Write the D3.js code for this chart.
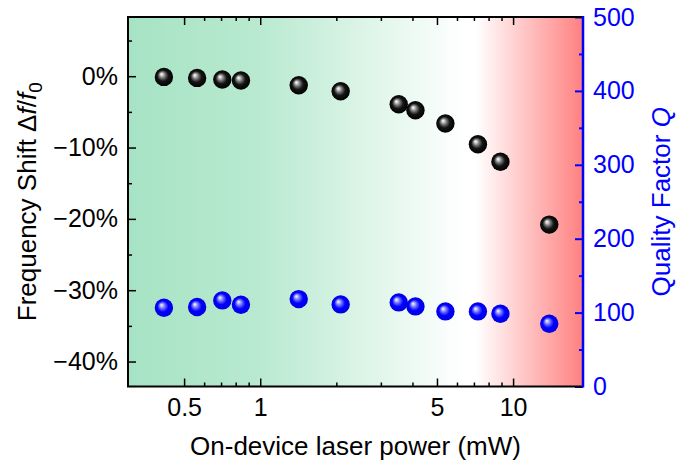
<!DOCTYPE html>
<html><head><meta charset="utf-8">
<script src="https://cdn.jsdelivr.net/npm/d3@7"></script>
<style>body{margin:0;background:#fff}svg{display:block}text{font-family:"Liberation Sans",Arial,sans-serif}</style>
</head><body><svg id="c" width="676" height="466"></svg>
<script>
const power = [0.416, 0.563, 0.708, 0.839, 1.42, 2.08, 3.53, 4.11, 5.40, 7.26, 8.91, 13.9];
const freqShift = [-0.1, -0.24, -0.46, -0.6, -1.26, -2.1, -3.93, -4.77, -6.63, -9.54, -12.0, -20.8];
const qualityQ = [106.6, 107.5, 116.5, 110.7, 118.3, 111.1, 113.8, 108.4, 101.6, 101.6, 98.5, 85];
const xTicks = [0.5, 1, 5, 10];
const xMinor = [0.6, 0.7, 0.8, 0.9, 2, 3, 4, 6, 7, 8, 9];
const yTicks = [0, -10, -20, -30, -40];
const yMinor = [5, -5, -15, -25, -35];
const qTicks = [0, 100, 200, 300, 400, 500];
const qMinor = [50, 150, 250, 350, 450];

const svg = d3.select("#c");
const L = 128, R = 583, T = 17, B = 386.5;
const x = d3.scaleLog().domain([0.3, 18.9]).range([L, R]);
const y = d3.scaleLinear().domain([-43.5, 8.3]).range([B, T]);
const yq = d3.scaleLinear().domain([0, 500]).range([B, T]);

const defs = svg.append("defs");
const bg = defs.append("linearGradient").attr("id", "bg").attr("x1", 0).attr("x2", 1).attr("y1", 0).attr("y2", 0);
[[0, "rgb(166,227,196)"], [0.3, "rgb(186,234,209)"], [0.74, "rgb(255,255,255)"], [0.765, "rgb(255,255,255)"], [1, "rgb(255,128,128)"]]
  .forEach(([o, c]) => bg.append("stop").attr("offset", o).attr("stop-color", c));
function ball(id, stops) {
  const g = defs.append("radialGradient").attr("id", id).attr("cx", 0.5).attr("cy", 0.5).attr("r", 0.5).attr("fx", 0.36).attr("fy", 0.34);
  stops.forEach(([o, c]) => g.append("stop").attr("offset", o).attr("stop-color", c));
}
ball("gBlack", [[0, "#ffffff"], [0.12, "#d8d8d8"], [0.35, "#707070"], [0.6, "#151515"], [1, "#000000"]]);
ball("gBlue", [[0, "#ffffff"], [0.12, "#c8c8ff"], [0.35, "#6060ff"], [0.6, "#0000ff"], [1, "#0000e0"]]);

svg.append("rect").attr("x", L).attr("y", T).attr("width", R - L).attr("height", B - T).attr("fill", "url(#bg)");

const fs = 25, ft = 26;
// bottom axis
const xb = svg.append("g").attr("transform", `translate(0,${B})`)
  .call(d3.axisBottom(x).tickValues(xTicks).tickSize(-8).tickPadding(12).tickFormat(d => d3.format("~g")(d)));
xb.selectAll(".tick text").attr("font-size", fs).attr("fill", "#000").attr("dy", "0.71em");
svg.append("g").attr("transform", `translate(0,${B})`).call(d3.axisBottom(x).tickValues(xMinor).tickSize(-4).tickFormat(""));
// top
svg.append("g").attr("transform", `translate(0,${T})`).call(d3.axisTop(x).tickValues(xTicks).tickSize(-8).tickFormat(""));
svg.append("g").attr("transform", `translate(0,${T})`).call(d3.axisTop(x).tickValues(xMinor).tickSize(-4).tickFormat(""));
// left
const yl = svg.append("g").attr("transform", `translate(${L},0)`)
  .call(d3.axisLeft(y).tickValues(yTicks).tickSize(-8).tickPadding(10).tickFormat(d => (d < 0 ? "\u2212" + Math.abs(d) : d) + "%"));
yl.selectAll(".tick text").attr("font-size", fs).attr("fill", "#000");
svg.append("g").attr("transform", `translate(${L},0)`).call(d3.axisLeft(y).tickValues(yMinor).tickSize(-4).tickFormat(""));
// right
const yr = svg.append("g").attr("transform", `translate(${R},0)`)
  .call(d3.axisRight(yq).tickValues(qTicks).tickSize(-8).tickPadding(10));
yr.selectAll(".tick text").attr("font-size", fs).attr("fill", "#0000ff");
const yr2 = svg.append("g").attr("transform", `translate(${R},0)`).call(d3.axisRight(yq).tickValues(qMinor).tickSize(-4).tickFormat(""));

svg.selectAll(".domain").remove();
svg.selectAll(".tick line").attr("stroke", "#000").attr("stroke-width", 1.5);
yr.selectAll(".tick line").attr("stroke", "#0000ff").attr("stroke-width", 2);
yr2.selectAll(".tick line").attr("stroke", "#0000ff").attr("stroke-width", 2);

// frame
svg.append("path").attr("d", `M${R},${T}H${L}V${B}H${R}`).attr("fill", "none").attr("stroke", "#000").attr("stroke-width", 2);
svg.append("line").attr("x1", R).attr("x2", R).attr("y1", T - 1).attr("y2", B + 1).attr("stroke", "#0000ff").attr("stroke-width", 2.5);

// points
const rad = 9.2;
svg.append("g").selectAll("circle").data(power).join("circle")
  .attr("cx", d => x(d)).attr("cy", (d, i) => yq(qualityQ[i])).attr("r", rad).attr("fill", "url(#gBlue)");
svg.append("g").selectAll("circle").data(power).join("circle")
  .attr("cx", d => x(d)).attr("cy", (d, i) => y(freqShift[i])).attr("r", rad).attr("fill", "url(#gBlack)");

// titles
svg.append("text").attr("x", (L + R) / 2).attr("y", 455).attr("text-anchor", "middle").attr("font-size", ft).text("On-device laser power (mW)");
const lt = svg.append("text").attr("transform", `translate(36,${(T + B) / 2}) rotate(-90)`).attr("text-anchor", "middle").attr("font-size", ft);
lt.append("tspan").text("Frequency Shift \u0394");
lt.append("tspan").attr("font-style", "italic").text("f");
lt.append("tspan").text("/");
lt.append("tspan").attr("font-style", "italic").text("f");
lt.append("tspan").attr("font-size", 19).attr("dy", 6).text("0");
const rt = svg.append("text").attr("transform", `translate(670,${(T + B) / 2}) rotate(-90)`).attr("text-anchor", "middle").attr("font-size", ft).attr("fill", "#0000ff");
rt.append("tspan").text("Quality Factor ");
rt.append("tspan").attr("font-style", "italic").text("Q");
</script></body></html>
